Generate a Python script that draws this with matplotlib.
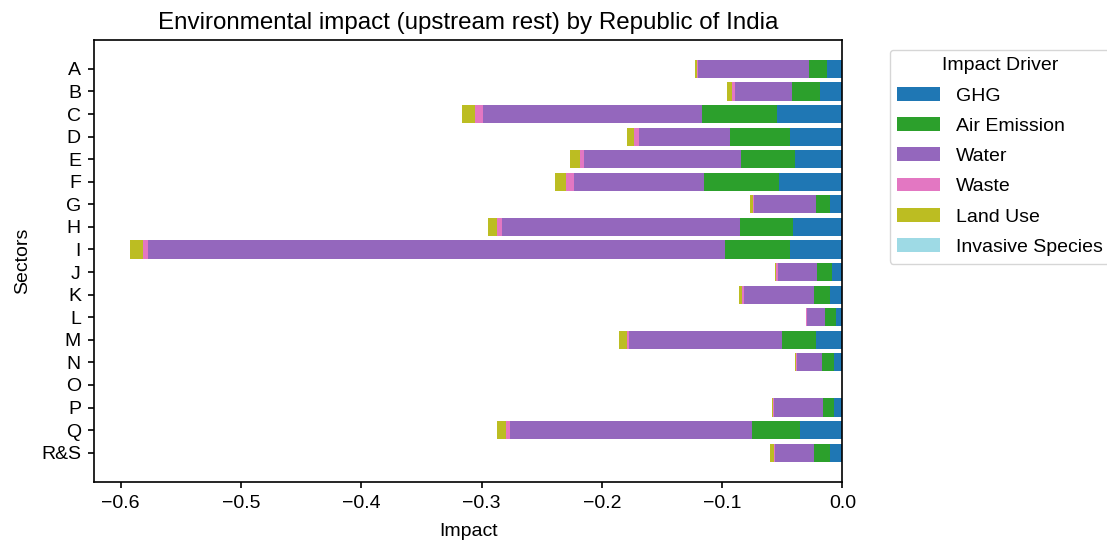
import numpy as np
import matplotlib
matplotlib.use("Agg")
import matplotlib.pyplot as plt

plt.rcParams['font.family'] = ['Liberation Sans', 'DejaVu Sans']

# sectors, top to bottom
sectors = ['A', 'B', 'C', 'D', 'E', 'F', 'G', 'H', 'I', 'J', 'K', 'L', 'M', 'N', 'O', 'P', 'Q', 'R&S']

drivers = ['GHG', 'Air Emission', 'Water', 'Waste', 'Land Use', 'Invasive Species']

# impact values, one list per driver
ghg = [-0.0129, -0.0190, -0.0544, -0.0439, -0.0395, -0.0524, -0.0100, -0.0407, -0.0439,
       -0.0089, -0.0100, -0.0052, -0.0222, -0.0069, 0.0, -0.0069, -0.0355, -0.0105]
air_emission = [-0.0153, -0.0226, -0.0620, -0.0492, -0.0451, -0.0629, -0.0121, -0.0447, -0.0540,
                -0.0121, -0.0137, -0.0089, -0.0278, -0.0097, 0.0, -0.0089, -0.0399, -0.0133]
water = [-0.0915, -0.0476, -0.1826, -0.0762, -0.1306, -0.1076, -0.0512, -0.1979, -0.4796,
         -0.0322, -0.0584, -0.0153, -0.1270, -0.0210, 0.0, -0.0407, -0.2011, -0.0322]
waste = [-0.0012, -0.0028, -0.0060, -0.0040, -0.0032, -0.0069, -0.0012, -0.0036, -0.0040,
         -0.0016, -0.0012, -0.0008, -0.0024, -0.0008, 0.0, -0.0012, -0.0032, -0.0012]
land_use = [-0.0020, -0.0036, -0.0109, -0.0060, -0.0077, -0.0093, -0.0020, -0.0073, -0.0109,
            -0.0012, -0.0024, -0.0004, -0.0060, -0.0012, 0.0, -0.0008, -0.0073, -0.0032]
invasive_species = [0.0] * len(sectors)

series = [ghg, air_emission, water, waste, land_use, invasive_species]

# same colours pandas picks from tab20 for six columns
colours = plt.get_cmap('tab20')(np.linspace(0, 1, len(drivers)))

fig, ax = plt.subplots(figsize=(11.07, 5.45), dpi=100)
fig.subplots_adjust(left=0.085, right=0.761, top=0.927, bottom=0.116)

y = np.arange(len(sectors))
left = np.zeros(len(sectors))
for name, vals, c in zip(drivers, series, colours):
    vals = np.array(vals)
    ax.barh(y, vals, left=left, height=0.8, color=c, label=name)
    left = left + vals

# usual 5% margin on the left, bars stick to 0 on the right
lo = left.min()
ax.set_xlim(lo + 0.05 * lo, 0)

ax.set_yticks(y)
ax.set_yticklabels(sectors)
ax.invert_yaxis()

ax.set_title('Environmental impact (upstream rest) by Republic of India', fontsize=17.4, pad=8)
ax.set_xlabel('Impact', fontsize=14, labelpad=8)
ax.set_ylabel('Sectors', fontsize=14, labelpad=7)
ax.tick_params(labelsize=14, length=4.5, width=1.2, pad=5)
for s in ax.spines.values():
    s.set_linewidth(1.2)

ax.legend(title='Impact Driver', bbox_to_anchor=(1.05, 1), loc='upper left',
          fontsize=14, title_fontsize=14, labelspacing=0.65, handlelength=2.2)

fig.savefig('out.png', dpi=100)
